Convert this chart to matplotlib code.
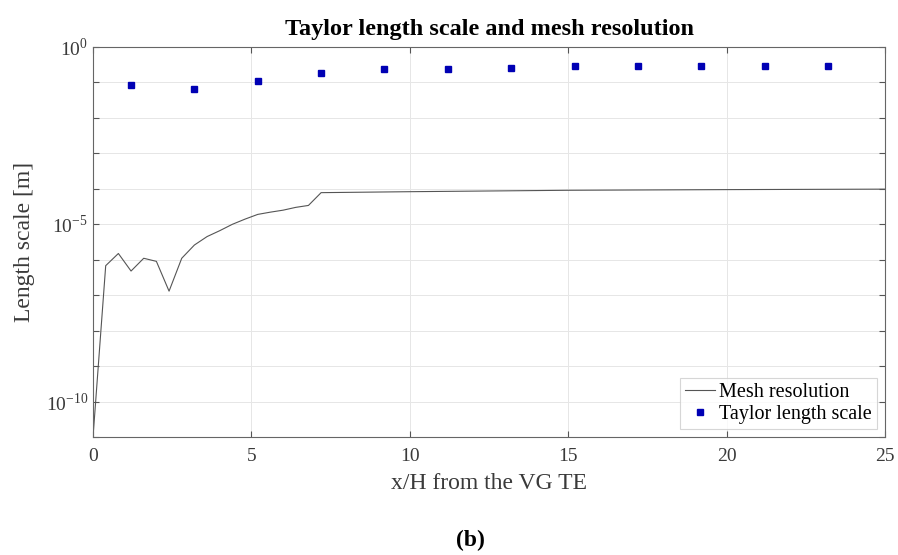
import matplotlib

matplotlib.use("Agg")

import matplotlib.pyplot as plt
import numpy as np
from matplotlib.ticker import FixedLocator, FuncFormatter, NullLocator

plt.rcParams["font.family"] = ["Liberation Serif", "DejaVu Serif"]
plt.rcParams["mathtext.fontset"] = "custom"
plt.rcParams["mathtext.rm"] = "Liberation Serif"

# mesh resolution along x/H
mesh_x = [0.0, 0.4, 0.8, 1.2, 1.6, 2.0, 2.4, 2.8, 3.2, 3.6, 4.0, 4.4, 4.8,
          5.2, 5.6, 6.0, 6.4, 6.8, 7.2, 10.0, 15.0, 20.0, 25.0]
mesh_y = [1.0e-11, 6.8e-7, 1.5e-6, 4.8e-7, 1.1e-6, 9.0e-7, 1.3e-7, 1.1e-6,
          2.6e-6, 4.5e-6, 6.6e-6, 1.0e-5, 1.4e-5, 1.9e-5, 2.2e-5, 2.5e-5,
          3.0e-5, 3.4e-5, 7.8e-5, 8.3e-5, 9.1e-5, 9.5e-5, 9.8e-5]

# Taylor length scale samples
taylor_x = [1.2, 3.2, 5.2, 7.2, 9.2, 11.2, 13.2, 15.2, 17.2, 19.2, 21.2, 23.2]
taylor_y = [0.087, 0.064, 0.113, 0.186, 0.233, 0.233, 0.26, 0.29, 0.29,
            0.29, 0.29, 0.29]

y_decades = np.arange(-11, 1)
y_labelled = [0, -5, -10]


def decade_label(v, pos):
    e = int(round(np.log10(v)))
    return rf"$10^{{{e}}}$" if e in y_labelled else ""


fig = plt.figure(figsize=(8.98, 5.55), dpi=100)
ax = fig.add_axes([0.1036, 0.2126, 0.8819, 0.7027])

ax.plot(mesh_x, mesh_y, color="#555555", lw=0.8, label="Mesh resolution")
ax.plot(taylor_x, taylor_y, ls="none", marker="s", ms=3.8, color="#0000b4",
        label="Taylor length scale")

ax.set_yscale("log")
ax.set_xlim(0, 25)
ax.set_ylim(1e-11, 1)
ax.yaxis.set_major_locator(FixedLocator(10.0 ** y_decades))
ax.yaxis.set_major_formatter(FuncFormatter(decade_label))
ax.yaxis.set_minor_locator(NullLocator())
ax.set_xticks([0, 5, 10, 15, 20, 25])

ax.grid(True, color="#e6e6e6", lw=0.7)
ax.tick_params(direction="in", top=True, right=True, labelsize=14,
               color="#555555", labelcolor="#3a3a3a", length=4)
ax.tick_params(axis="x", pad=8)
for s in ax.spines.values():
    s.set_color("#666666")
    s.set_linewidth(0.8)

ax.set_title("Taylor length scale and mesh resolution", fontsize=17.5,
             fontweight="bold", pad=9)
ax.set_xlabel("x/H from the VG TE", fontsize=17, color="#3a3a3a",
              labelpad=6)
ax.set_ylabel("Length scale [m]", fontsize=17, color="#3a3a3a",
              labelpad=8)

leg = ax.legend(loc="lower right", fontsize=14.5, frameon=True,
                fancybox=False, edgecolor="#cccccc", borderaxespad=0.4,
                handlelength=1.5, handletextpad=0.2, borderpad=0.25,
                labelspacing=0.15)
leg.get_frame().set_linewidth(0.8)

fig.text(0.524, 0.027, "(b)", ha="center", va="center", fontsize=17,
         fontweight="bold")

fig.savefig("out.png", dpi=100)
